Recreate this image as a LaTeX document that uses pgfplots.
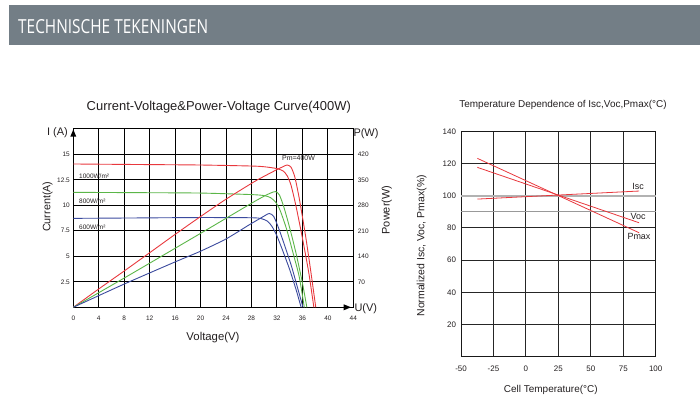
\documentclass[border=0pt]{standalone}
\usepackage{pgfplots}
\pgfplotsset{compat=1.18}
\usepackage{fontspec}
\setmainfont{Liberation Sans}
\newfontfamily\headfont{Open Sans}
\definecolor{hdr}{HTML}{737E86}
\definecolor{cred}{HTML}{E8383D}
\definecolor{cgreen}{HTML}{5BB648}
\definecolor{cblue}{HTML}{3B4A9E}
\definecolor{txt}{HTML}{231F20}
\newcommand{\fs}[1]{\fontsize{#1}{#1}\selectfont}
\begin{document}
\begin{tikzpicture}[x=1bp,y=1bp]
\path[use as bounding box] (0,0) rectangle (700,407);
\fill[hdr] (9,362) rectangle (700,402);
\node[anchor=west, inner sep=0, text=white] at (18,380.7) {\resizebox{190bp}{14bp}{\headfont TECHNISCHE TEKENINGEN}};

% ---------------- left chart ----------------
\begin{axis}[at={(73.3bp,99.7bp)}, anchor=south west, scale only axis,
  width=280bp, height=178.5bp,
  xmin=0, xmax=44, ymin=0, ymax=17.5,
  xtick={0,4,...,44}, xticklabels={0,4,8,12,16,20,24,28,32,36,40,44},
  ytick={0,2.5,5,7.5,10,12.5,15,17.5}, yticklabels={,2.5,5,7.5,10,12.5,15,},
  grid=major, grid style={black, line width=0.95bp},
  axis line style={black, line width=1bp},
  major tick length=0,
  tick label style={font=\fs{6.5}, text=txt},
  xticklabel style={yshift=-5.5bp},
  clip=false]
% I-V curves
\addplot[cred, line width=0.9bp, smooth, tension=0.4] coordinates {(0,14.05) (10,14.0) (20,13.95) (28,13.85) (30,13.78) (32,13.6) (33,13.35) (33.6,12.9) (34.2,12.0) (35,9.9) (36,6.8) (37,3.4) (37.8,0)};
\addplot[cgreen, line width=0.9bp, smooth, tension=0.4] coordinates {(0,11.27) (10,11.24) (20,11.2) (28,11.05) (30,10.95) (31,10.75) (31.8,10.3) (32.5,9.5) (33.5,7.7) (34.5,5.4) (35.5,3.0) (36.3,0)};
\addplot[cblue, line width=0.9bp, smooth, tension=0.4] coordinates {(0,8.72) (10,8.76) (20,8.8) (28,8.78) (29.5,8.7) (30.5,8.45) (31.2,7.95) (32,7.0) (33,5.4) (34,3.7) (35,1.75) (35.8,0)};
% P-V curves (scaled: 28 W per A)
\addplot[cred, line width=0.9bp, smooth, tension=0.4] coordinates {(0,0) (4,1.8) (8,3.56) (12,5.35) (16,7.15) (20,8.9) (24,10.6) (28.4,12.3) (30,12.85) (32,13.5) (33,13.8) (33.6,13.95) (34.2,13.75) (34.8,12.8) (35.5,10.7) (36.5,7.0) (37.3,3.6) (38.1,0)};
\addplot[cgreen, line width=0.9bp, smooth, tension=0.4] coordinates {(0,0) (8,2.87) (20,7.25) (28,10.2) (30,10.9) (31,11.2) (31.8,11.35) (32.4,11.0) (33.1,9.8) (34,7.8) (35,5.3) (36,2.4) (36.7,0)};
\addplot[cblue, line width=0.9bp, smooth, tension=0.4] coordinates {(0,0) (8,2.28) (16,4.45) (20,5.5) (24,6.7) (27.6,8.07) (30,8.95) (30.8,9.2) (31.5,8.9) (32.3,7.7) (33.3,5.9) (34.3,4.0) (35.2,2.0) (36.1,0)};
\end{axis}
\begin{axis}[at={(73.3bp,99.7bp)}, anchor=south west, scale only axis,
  width=280bp, height=178.5bp,
  xmin=0, xmax=44, ymin=0, ymax=490,
  hide x axis, axis y line*=right,
  ytick={70,140,210,280,350,420}, yticklabels={70,140,210,280,350,420},
  major tick length=0,
  axis line style={black, line width=1bp},
  tick label style={font=\fs{6.5}, text=txt},
  yticklabel style={anchor=west, xshift=1bp}]
\end{axis}
% arrows
\fill[black] (70.3,270.3) -- (76.3,270.3) -- (73.3,277.5) -- cycle;
\fill[black] (343.7,102.7) -- (343.7,96.7) -- (351,99.7) -- cycle;
% labels left chart
\node[text=txt, font=\fs{13}] at (218.8,300.3) {Current-Voltage\&Power-Voltage Curve(400W)};
\node[text=txt, font=\fs{11}, anchor=east, inner sep=0] at (68,274.7) {I (A)};
\node[text=txt, font=\fs{11}, anchor=west, inner sep=0] at (353.3,273.7) {P(W)};
\node[text=txt, font=\fs{11}, anchor=west, inner sep=0] at (354.3,98.7) {U(V)};
\node[text=txt, font=\fs{10.8}, rotate=90] at (47.5,200.3) {Current(A)};
\node[text=txt, font=\fs{11}, rotate=90] at (386.7,197) {Power(W)};
\node[text=txt, font=\fs{11.4}] at (213,69.3) {Voltage(V)};
\node[text=txt, font=\fs{6.5}, anchor=west, inner sep=0] at (79,231) {1000W/m²};
\node[text=txt, font=\fs{6.5}, anchor=west, inner sep=0] at (79,206.3) {800W/m²};
\node[text=txt, font=\fs{6.5}, anchor=west, inner sep=0] at (79,179.7) {600W/m²};
\node[text=txt, font=\fs{7}] at (298.5,248.7) {Pm=400W};

% ---------------- right chart ----------------
\begin{axis}[at={(461bp,50.3bp)}, anchor=south west, scale only axis,
  width=194.7bp, height=225.4bp,
  xmin=-50, xmax=100, ymin=0, ymax=140,
  xtick={-50,-25,0,25,50,75,100}, xticklabels={-50,-25,0,25,50,75,100},
  ytick={20,40,60,80,100,120,140}, yticklabels={20,40,60,80,100,120,140},
  grid=major, grid style={black!85, line width=0.95bp},
  axis line style={black!90, line width=1bp},
  major tick length=0,
  tick label style={font=\fs{8}, text=txt},
  xticklabel style={yshift=-6bp},
  yticklabel style={xshift=-1.5bp},
  clip=false]
\draw[gray!60, line width=1.8bp] (axis cs:-50,100) -- (axis cs:100,100);
\draw[gray!80, line width=1.2bp] (axis cs:-50,90) -- (axis cs:100,90);
\addplot[cred, line width=0.8bp] coordinates {(-37.4,97.9) (87.2,102.9)};
\addplot[cred, line width=0.8bp] coordinates {(-37.4,117.6) (87.2,83.2)};
\addplot[cred, line width=0.8bp] coordinates {(-37.4,123.2) (87.2,77.0)};
\end{axis}
\node[text=txt, font=\fs{10}] at (563,302) {Temperature Dependence of Isc,Voc,Pmax(°C)};
\node[text=txt, font=\fs{10.5}, rotate=90] at (421.7,161.2) {Normalized Isc, Voc, Pmax(\%)};
\node[text=txt, font=\fs{10}] at (550.8,17) {Cell Temperature(°C)};
\node[text=txt, font=\fs{9}] at (638,221) {Isc};
\node[text=txt, font=\fs{9}] at (638,191) {Voc};
\node[text=txt, font=\fs{9}] at (639,170.3) {Pmax};
\end{tikzpicture}
\end{document}
